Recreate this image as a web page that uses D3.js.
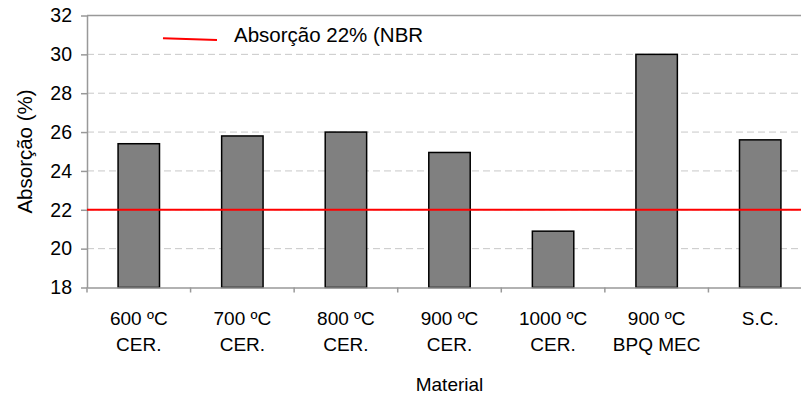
<!DOCTYPE html>
<html>
<head>
<meta charset="utf-8">
<script src="https://cdn.jsdelivr.net/npm/d3@7"></script>
<style>
  body { margin: 0; background: #fff; }
  svg { display: block; font-family: "Liberation Sans", Arial, sans-serif; }
  .axis path, .axis line { stroke: #999; stroke-width: 1.5; }
  .axis text { font-size: 19.5px; fill: #000; }
</style>
</head>
<body>
<svg id="chart" width="801" height="396"></svg>
<script>
// data
const categories = ["600 ºC|CER.", "700 ºC|CER.", "800 ºC|CER.", "900 ºC|CER.", "1000 ºC|CER.", "900 ºC|BPQ MEC", "S.C."];
const absorption = [25.4, 25.8, 26.0, 24.95, 20.9, 30.0, 25.6];
const yTicks = [18, 20, 22, 24, 26, 28, 30, 32];
const limitValue = 22;
const legendLabel = "Absorção 22% (NBR";

const svg = d3.select("#chart");
const margin = { top: 15.5, left: 87 };
const innerW = 725, innerH = 272;   // plot runs past the right edge, as in the picture

const g = svg.append("g").attr("transform", `translate(${margin.left},${margin.top})`);

const x = d3.scaleBand().domain(categories).range([0, innerW]).padding(0);
const y = d3.scaleLinear().domain([18, 32]).range([innerH, 0]);

// dashed gridlines
g.append("g").selectAll("line")
  .data(yTicks.filter(t => t > 18 && t < 32))
  .join("line")
  .attr("x1", 0).attr("x2", innerW)
  .attr("y1", d => y(d)).attr("y2", d => y(d))
  .attr("stroke", "#c8c8c8").attr("stroke-width", 1)
  .attr("stroke-dasharray", "7,4");

// top border of the plot area
g.append("line")
  .attr("x1", 0).attr("x2", innerW).attr("y1", 0).attr("y2", 0)
  .attr("stroke", "#999").attr("stroke-width", 1.5);

// bars
const barW = x.bandwidth() * 0.4;
g.append("g").selectAll("rect")
  .data(categories.map((c, i) => ({ c, v: absorption[i] })))
  .join("rect")
  .attr("x", d => x(d.c) + (x.bandwidth() - barW) / 2)
  .attr("y", d => y(d.v))
  .attr("width", barW)
  .attr("height", d => y(18) - y(d.v))
  .attr("fill", "#808080")
  .attr("stroke", "#000")
  .attr("stroke-width", 1.5);

// y axis
const yAxis = d3.axisLeft(y).tickValues(yTicks).tickSize(6).tickSizeOuter(0).tickPadding(9);
g.append("g").attr("class", "axis").call(yAxis);

// x axis: labels centred, tick marks on band edges
const xAxis = g.append("g").attr("class", "axis").attr("transform", `translate(0,${innerH})`)
  .call(d3.axisBottom(x).tickSize(0).tickSizeOuter(0).tickFormat(""));
xAxis.selectAll(".tick").remove();
xAxis.selectAll("line.edge")
  .data(categories.concat([null]))
  .join("line")
  .attr("class", "edge")
  .attr("x1", (d, i) => i * x.step()).attr("x2", (d, i) => i * x.step())
  .attr("y1", 0).attr("y2", 5);

const labels = g.append("g").selectAll("text")
  .data(categories)
  .join("text")
  .attr("text-anchor", "middle")
  .attr("font-size", 19)
  .attr("transform", d => `translate(${x(d) + x.bandwidth() / 2},${innerH + 37.3})`);
labels.selectAll("tspan")
  .data(d => d.split("|"))
  .join("tspan")
  .attr("x", 0)
  .attr("dy", (d, i) => i === 0 ? 0 : 26.7)
  .text(d => d);

// reference line at 22 %
g.append("line")
  .attr("x1", 0).attr("x2", innerW)
  .attr("y1", y(limitValue)).attr("y2", y(limitValue))
  .attr("stroke", "#ff0000").attr("stroke-width", 2);

// axis titles
svg.append("text")
  .attr("x", margin.left + innerW / 2).attr("y", 391)
  .attr("text-anchor", "middle").attr("font-size", 19)
  .text("Material");
svg.append("text")
  .attr("transform", `translate(32,${margin.top + innerH / 2}) rotate(-90)`)
  .attr("text-anchor", "middle").attr("font-size", 20.5)
  .text("Absorção (%)");

// legend
svg.append("line")
  .attr("x1", 163).attr("y1", 38.3).attr("x2", 217).attr("y2", 40)
  .attr("stroke", "#ff0000").attr("stroke-width", 2);
svg.append("text")
  .attr("x", 234).attr("y", 41.7).attr("font-size", 20.5)
  .text(legendLabel);
</script>
</body>
</html>
